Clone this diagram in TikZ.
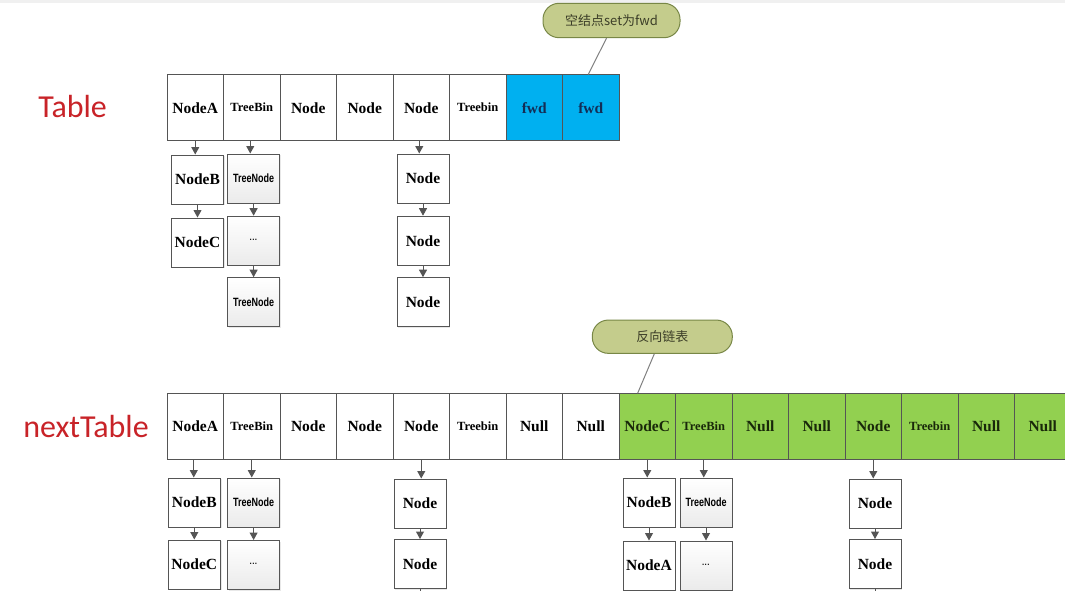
\documentclass[tikz,border=0pt]{standalone}
\usepackage{fontspec}
\usepackage{graphicx}
\setmainfont{Liberation Serif}
\newfontfamily\labfont{Carlito}
\newfontfamily\cjkfont{Noto Sans CJK SC}
\newfontfamily\arialfont{Liberation Sans}
\usetikzlibrary{arrows.meta,shadows}

\definecolor{boxline}{RGB}{85,85,85}
\definecolor{fwdblue}{RGB}{0,176,240}
\definecolor{fwdtext}{RGB}{20,45,85}
\definecolor{newgreen}{RGB}{146,208,80}
\definecolor{greentext}{RGB}{25,40,10}
\definecolor{olivefill}{RGB}{196,204,140}
\definecolor{olivedark}{RGB}{120,135,70}
\definecolor{callouttext}{RGB}{60,62,40}
\definecolor{labred}{RGB}{200,35,40}
\definecolor{topstrip}{RGB}{240,240,240}

\newcommand{\tnlabel}{\scalebox{0.75}[1]{\arialfont\fontsize{12}{12}\selectfont TreeNode}}
\newcommand{\dotslabel}{{\arialfont\bfseries\fontsize{8}{8}\selectfont ···}}

\tikzset{
  cell/.style={draw=boxline, line width=1pt, minimum width=56.5pt, minimum height=65.5pt,
    inner sep=0pt, font=\bfseries\fontsize{15.5}{16}\selectfont},
  nb/.style={},
  bin/.style={font=\bfseries\fontsize{12.5}{13}\selectfont},
  fwdcell/.style={fill=fwdblue, text=fwdtext},
  grncell/.style={fill=newgreen, text=greentext},
  chain/.style={draw=boxline, line width=1pt, fill=white, minimum width=52pt, minimum height=49pt,
    inner sep=0pt, font=\bfseries\fontsize{15.5}{16}\selectfont,
    drop shadow={opacity=0.18, shadow xshift=1.2pt, shadow yshift=-1.2pt}},
  tnode/.style={chain, top color=white, bottom color=gray!16},
  link/.style={draw=boxline, line width=1pt, -{Triangle[length=7.5pt,width=8pt]}},
  stub/.style={draw=boxline, line width=1pt},
  callout/.style={draw=olivedark, fill=olivefill, rounded corners=16pt, line width=1pt,
    inner sep=0pt, font=\cjkfont\fontsize{13}{13}\selectfont, text=callouttext},
  pointer/.style={draw=gray, line width=1pt},
  title/.style={text=labred, font=\labfont\fontsize{32}{34}\selectfont, inner sep=0pt}
}

\begin{document}
\begin{tikzpicture}[x=1pt, y=-1pt]
\useasboundingbox (0,0) rectangle (1065,591);
\clip (0,0) rectangle (1065,591);
\fill[topstrip] (0,0) rectangle (1065,3);

% titles
\node[title] (lt) at (72.7,106.5) {Table};
\node[title] (lnt) at (86,427) {nextTable};

% top table
\foreach \i/\txt/\sty in {1/NodeA/nb, 2/TreeBin/bin, 3/Node/nb, 4/Node/nb, 5/Node/nb,
  6/Treebin/bin, 7/fwd/fwdcell, 8/fwd/fwdcell}
  \node[cell,\sty] (t\i) at ({195.25+56.5*(\i-1)},107.7) {\txt};

% bottom table
\foreach \i/\txt/\sty in {1/NodeA/nb, 2/TreeBin/bin, 3/Node/nb, 4/Node/nb, 5/Node/nb,
  6/Treebin/bin, 7/Null/nb, 8/Null/nb}
  \node[cell,\sty] (u\i) at ({195.25+56.5*(\i-1)},426.5) {\txt};
\foreach \i/\txt/\sty in {9/NodeC/nb, 10/TreeBin/bin, 11/Null/nb, 12/Null/nb, 13/Node/nb,
  14/Treebin/bin, 15/Null/nb, 16/Null/nb}
  \node[cell,grncell,\sty] (u\i) at ({195.25+56.5*(\i-1)},426.5) {\txt};

% top chains
\node[chain] (a1) at (197.5,179.5) {NodeB};
\node[chain] (a2) at (197.5,242.5) {NodeC};
\node[tnode] (b1) at (253.6,178.5) {\tnlabel};
\node[tnode] (b2) at (253.6,240.7) {\dotslabel};
\node[tnode] (b3) at (253.6,302.2) {\tnlabel};
\node[chain] (c1) at (423,178.5) {Node};
\node[chain] (c2) at (423,240.7) {Node};
\node[chain] (c3) at (423,302.2) {Node};

\draw[link] (t1.south) -- (t1.south |- a1.north);
\draw[link] (a1.south) -- (a2.north);
\draw[link] ([xshift=-1.5pt]t2.south) -- ([xshift=-1.5pt]t2.south |- b1.north);
\draw[link] (b1.south) -- (b2.north);
\draw[link] (b2.south) -- (b3.north);
\draw[link] ([xshift=-2pt]t5.south) -- ([xshift=-2pt]t5.south |- c1.north);
\draw[link] (c1.south) -- (c2.north);
\draw[link] (c2.south) -- (c3.north);

% bottom chains
\node[chain] (d1) at (194.3,502.5) {NodeB};
\node[chain] (d2) at (194.3,564.5) {NodeC};
\node[tnode] (e1) at (253.6,502.5) {\tnlabel};
\node[tnode] (e2) at (253.6,565) {\dotslabel};
\node[chain] (f1) at (420,503.5) {Node};
\node[chain] (f2) at (420,564) {Node};
\node[chain] (g1) at (649,502.5) {NodeB};
\node[chain] (g2) at (649,565.5) {NodeA};
\node[tnode] (h1) at (706,502.5) {\tnlabel};
\node[tnode] (h2) at (706,565.5) {\dotslabel};
\node[chain] (k1) at (875,503.5) {Node};
\node[chain] (k2) at (875,564) {Node};
\coordinate (fs) at (420,600);
\coordinate (ks) at (875,600);

\draw[link] ([xshift=-1.5pt]u1.south) -- ([xshift=-1.5pt]u1.south |- d1.north);
\draw[link] (d1.south) -- (d2.north);
\draw[link] (u2.south) -- (u2.south |- e1.north);
\draw[link] (e1.south) -- (e2.north);
\draw[link] (u5.south) -- (u5.south |- f1.north);
\draw[link] (f1.south) -- (f2.north);
\draw[stub] (f2.south) -- (fs);
\draw[link] (u9.south) -- (u9.south |- g1.north);
\draw[link] (g1.south) -- (g2.north);
\draw[link] (u10.south) -- (u10.south |- h1.north);
\draw[link] (h1.south) -- (h2.north);
\draw[link] (u13.south) -- (u13.south |- k1.north);
\draw[link] (k1.south) -- (k2.north);
\draw[stub] (k2.south) -- (ks);

% callouts
\node[callout, minimum width=137pt, minimum height=34.4pt] (co1) at (611.5,20.5) {空结点set为fwd};
\draw[pointer] ([xshift=-5pt]co1.south) -- ([xshift=-2.5pt]t8.north);
\node[callout, minimum width=140pt, minimum height=33.3pt] (co2) at (662.3,336.7) {反向链表};
\draw[pointer] ([xshift=-8pt]co2.south) -- ([xshift=-9.6pt]u9.north);
\end{tikzpicture}
\end{document}
